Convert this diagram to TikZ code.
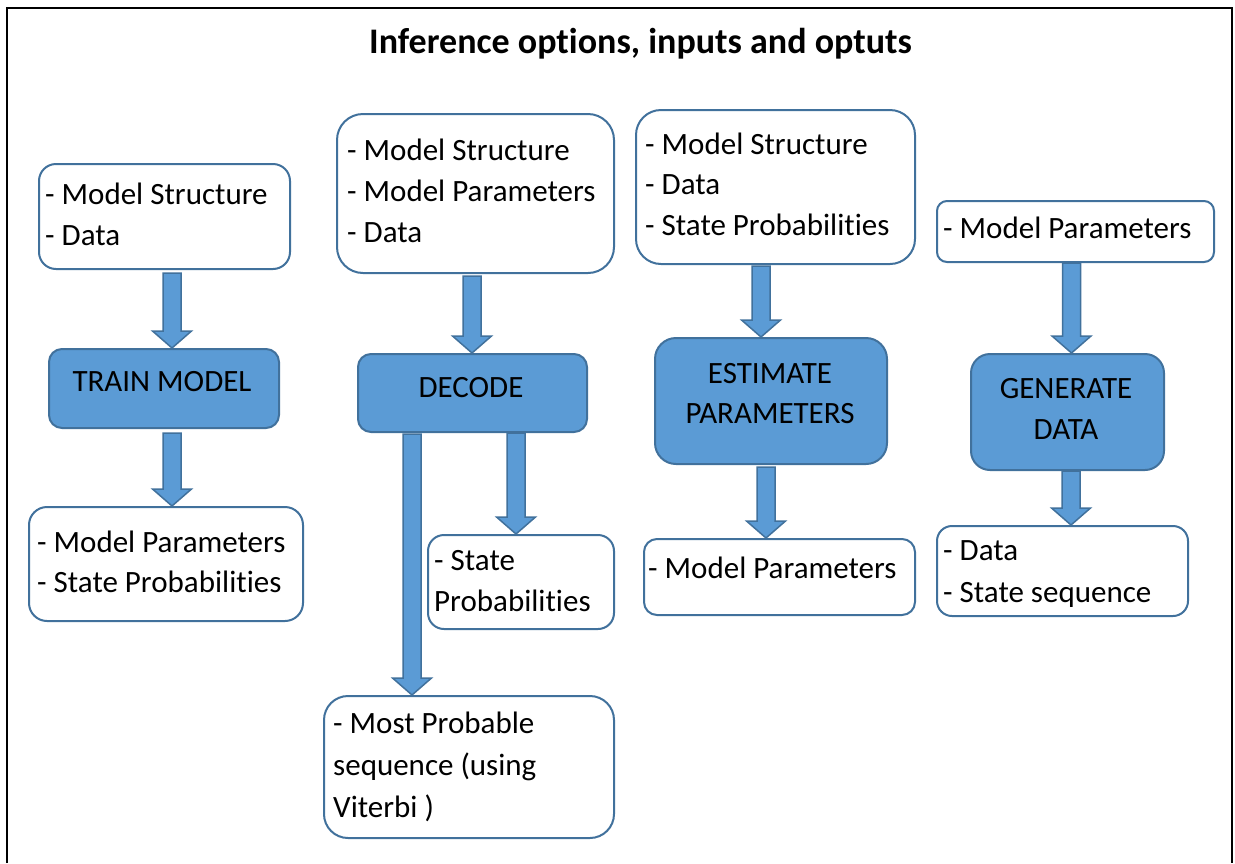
\documentclass[tikz,border=0pt]{standalone}
\usepackage{fontspec}
\setmainfont{Carlito}[Ligatures={NoCommon}]
\usetikzlibrary{calc}
\definecolor{bfill}{HTML}{5B9BD5}
\definecolor{bline}{HTML}{41719C}
\tikzset{
  box/.style={draw=bline, line width=2pt, fill=white, anchor=north west, inner sep=0pt},
  proc/.style={draw=bline, line width=2pt, fill=bfill, anchor=north west, inner sep=0pt},
  txt/.style={anchor=base west, inner sep=0pt, font=\fontsize{31}{41}\selectfont},
  ctxt/.style={anchor=base, inner sep=0pt, font=\fontsize{31}{41}\selectfont},
  barrow/.style={draw=bline, line width=1.5pt, fill=bfill, line join=miter},
  frameline/.style={line width=2.5pt, draw=black},
}
\newcommand\blockarrow[2]{%
  \draw[barrow] ([xshift=-9pt]#1) -- ([xshift=9pt]#1) -- ([xshift=9pt,yshift=17pt]#2)
   -- ([xshift=19.5pt,yshift=17pt]#2) -- (#2) -- ([xshift=-19.5pt,yshift=17pt]#2)
   -- ([xshift=-9pt,yshift=17pt]#2) -- cycle;}
\begin{document}
\begin{tikzpicture}[x=1pt,y=-1pt]
\useasboundingbox[fill=white] (0,0) rectangle (1235,863);
\draw[frameline] (7,863) -- (7,8) -- (1232,8) -- (1232,863);
\node[anchor=base, inner sep=0pt, font=\fontsize{36}{42}\selectfont\bfseries] (title) at (640.5,53) {Inference options, inputs and optuts};

% column 1
\node[box, minimum width=251pt, minimum height=105pt, rounded corners=17pt] (in1) at (38,163) {};
\node[txt] (in1a) at (45,204) {- Model Structure};
\node[txt] (in1b) at (45,245) {- Data};
\node[proc, minimum width=230pt, minimum height=79pt, rounded corners=13pt] (tm) at (48,348) {};
\node[ctxt] (tmt) at (162,391) {TRAIN MODEL};
\node[box, minimum width=274pt, minimum height=114pt, rounded corners=18pt] (out1) at (28,506) {};
\node[txt] (out1a) at (37,552) {- Model Parameters};
\node[txt] (out1b) at (37,592) {- State Probabilities};

% column 2
\node[box, minimum width=277pt, minimum height=159pt, rounded corners=26pt] (in2) at (336,113) {};
\node[txt] (in2a) at (347,160) {- Model Structure};
\node[txt] (in2b) at (347,201) {- Model Parameters};
\node[txt] (in2c) at (347,242) {- Data};
\node[proc, minimum width=229pt, minimum height=78pt, rounded corners=13pt] (dec) at (357,353) {};
\node[ctxt] (dect) at (471,397) {DECODE};
\node[box, minimum width=186pt, minimum height=94pt, rounded corners=16pt] (sp) at (427,534) {};
\node[txt] (spa) at (434,570) {- State};
\node[txt] (spb) at (434,611) {Probabilities};
\node[box, minimum width=290pt, minimum height=142pt, rounded corners=24pt] (vit) at (323,695) {};
\node[txt] (vita) at (333,733) {- Most Probable};
\node[txt] (vitb) at (333,775) {sequence (using};
\node[txt] (vitc) at (333,817) {Viterbi )};

% column 3
\node[box, minimum width=279pt, minimum height=154pt, rounded corners=25pt] (in3) at (635,109) {};
\node[txt] (in3a) at (645,154) {- Model Structure};
\node[txt] (in3b) at (645,194) {- Data};
\node[txt] (in3c) at (645,235) {- State Probabilities};
\node[proc, minimum width=232pt, minimum height=126pt, rounded corners=21pt] (est) at (654,337) {};
\node[ctxt] (esta) at (770,383) {ESTIMATE};
\node[ctxt] (estb) at (770,423) {PARAMETERS};
\node[box, minimum width=271pt, minimum height=76pt, rounded corners=13pt] (out3) at (643,538) {};
\node[txt] (out3a) at (648,578) {- Model Parameters};

% column 4
\node[box, minimum width=277pt, minimum height=61pt, rounded corners=10pt] (in4) at (936,200) {};
\node[txt] (in4a) at (943,238) {- Model Parameters};
\node[proc, minimum width=193pt, minimum height=116pt, rounded corners=19pt] (gen) at (970,353) {};
\node[ctxt] (gena) at (1066,398) {GENERATE};
\node[ctxt] (genb) at (1066,439) {DATA};
\node[box, minimum width=251pt, minimum height=90pt, rounded corners=15pt] (out4) at (936,525) {};
\node[txt] (out4a) at (943,560) {- Data};
\node[txt] (out4b) at (943,602) {- State sequence};

% arrow anchors
\coordinate (a1s) at ([xshift=7.5pt,yshift=-3pt]in1.south);
\coordinate (a1t) at (tm.north -| a1s);
\coordinate (b1s) at ([xshift=8pt,yshift=-4pt]tm.south);
\coordinate (b1t) at (out1.north -| b1s);
\coordinate (a2s) at ([xshift=-3.5pt,yshift=-2pt]in2.south);
\coordinate (a2t) at (dec.north -| a2s);
\coordinate (b2s) at ([xshift=43.5pt]dec.south);
\coordinate (b2t) at (sp.north -| b2s);
\coordinate (c2s) at ([xshift=-60.5pt,yshift=-1pt]dec.south);
\coordinate (c2t) at (vit.north -| c2s);
\coordinate (a3s) at ([xshift=-14.5pt,yshift=-1pt]in3.south);
\coordinate (a3t) at (est.north -| a3s);
\coordinate (b3s) at ([xshift=-5pt,yshift=-2pt]est.south);
\coordinate (b3t) at (out3.north -| b3s);
\coordinate (a4s) at ([xshift=-4pt]in4.south);
\coordinate (a4t) at (gen.north -| a4s);
\coordinate (b4s) at ([xshift=3.5pt]gen.south);
\coordinate (b4t) at (out4.north -| b4s);

\blockarrow{a1s}{a1t}
\blockarrow{b1s}{b1t}
\blockarrow{a2s}{a2t}
\blockarrow{b2s}{b2t}
\blockarrow{c2s}{c2t}
\blockarrow{a3s}{a3t}
\blockarrow{b3s}{b3t}
\blockarrow{a4s}{a4t}
\blockarrow{b4s}{b4t}
\end{tikzpicture}
\end{document}
